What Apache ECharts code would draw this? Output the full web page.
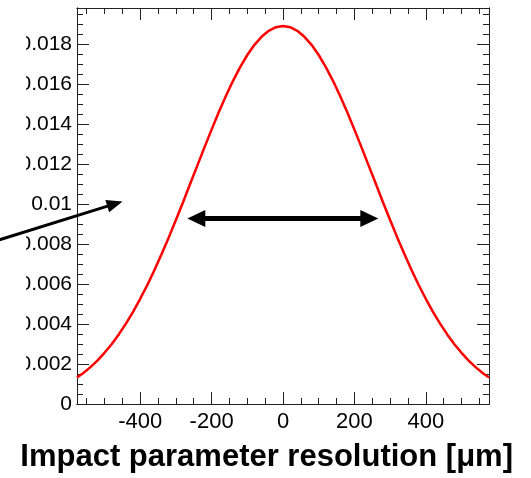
<!DOCTYPE html>
<html>
<head>
<meta charset="utf-8">
<script src="https://cdn.jsdelivr.net/npm/echarts@6/dist/echarts.min.js"></script>
<style>
html,body{margin:0;padding:0;background:#fff;}
#chart{width:531px;height:478px;}
</style>
</head>
<body>
<div id="chart"></div>
<script>
// ---- data ----
const xValues = [-577,-560,-540,-520,-500,-480,-460,-440,-420,-400,-380,-360,-340,-320,-300,-280,-260,-240,-220,-200,-180,-160,-140,-120,-100,-80,-60,-40,-20,0,20,40,60,80,100,120,140,160,180,200,220,240,260,280,300,320,340,360,380,400,420,440,460,480,500,520,540,560,577];
const yValues = [0.00132,0.00154,0.00183,0.00217,0.00256,0.00299,0.00348,0.00402,0.00461,0.00526,0.00595,0.00670,0.00750,0.00833,0.00920,0.01009,0.01101,0.01192,0.01283,0.01372,0.01459,0.01540,0.01616,0.01684,0.01745,0.01796,0.01836,0.01866,0.01884,0.01890,0.01884,0.01866,0.01836,0.01796,0.01745,0.01684,0.01616,0.01540,0.01459,0.01372,0.01283,0.01192,0.01101,0.01009,0.00920,0.00833,0.00750,0.00670,0.00595,0.00526,0.00461,0.00402,0.00348,0.00299,0.00256,0.00217,0.00183,0.00154,0.00132];
const xMajorTicks = [-400,-200,0,200,400];
const xMinorTicks = [-550,-500,-450,-350,-300,-250,-150,-100,-50,50,100,150,250,300,350,450,500,550];
const yMajorTicks = [0,0.002,0.004,0.006,0.008,0.01,0.012,0.014,0.016,0.018];
const yMinorTicks = [0.0005,0.001,0.0015,0.0025,0.003,0.0035,0.0045,0.005,0.0055,0.0065,0.007,0.0075,0.0085,0.009,0.0095,0.0105,0.011,0.0115,0.0125,0.013,0.0135,0.0145,0.015,0.0155,0.0165,0.017,0.0175,0.0185,0.019,0.0195];
const xRange = [-577, 577];
const yRange = [0, 0.0198];
const xTitle = 'Impact parameter resolution [μm]';
// arrows: [tail, tip] in data units
const fwhmArrow = [[-268, 0.00927], [267, 0.00927]]; // double-headed
const pointerArrow = [[-820, 0.00807], [-449.5, 0.01013]];

const chart = echarts.init(document.getElementById('chart'), null, {renderer: 'canvas'});
const FONT = 'Liberation Sans, Arial, Helvetica, sans-serif';
const AX = '#222';

function xAx(pos, ticks, len, labels) {
  return {
    type: 'value', position: pos, min: xRange[0], max: xRange[1],
    axisLine: {show: true, onZero: false, lineStyle: {color: AX, width: 1}},
    axisTick: {show: true, inside: true, length: len, customValues: ticks, lineStyle: {color: AX, width: 1}},
    axisLabel: labels ? {show: true, customValues: ticks, margin: 7, fontSize: 22, color: '#000', fontFamily: FONT} : {show: false},
    splitLine: {show: false}
  };
}
function yAx(pos, ticks, len, labels) {
  return {
    type: 'value', position: pos, min: yRange[0], max: yRange[1],
    axisLine: {show: true, onZero: false, lineStyle: {color: AX, width: 1}},
    axisTick: {show: true, inside: true, length: len, customValues: ticks, lineStyle: {color: AX, width: 1}},
    axisLabel: labels ? {show: true, customValues: ticks, margin: 5, fontSize: 21, color: '#000', fontFamily: FONT} : {show: false},
    splitLine: {show: false}
  };
}

chart.setOption({
  animation: false,
  backgroundColor: '#fff',
  grid: {left: 77, right: 42, top: 8, bottom: 74, containLabel: false},
  title: {
    text: xTitle, right: 13, top: 437,
    textStyle: {fontSize: 31, fontWeight: 'bold', color: '#000', fontFamily: FONT}
  },
  xAxis: [
    xAx('bottom', xMajorTicks, 12, true),
    xAx('bottom', xMinorTicks, 6, false),
    xAx('top', xMajorTicks, 12, false),
    xAx('top', xMinorTicks, 6, false)
  ],
  yAxis: [
    yAx('left', yMajorTicks, 12, true),
    yAx('left', yMinorTicks, 6, false),
    yAx('right', yMajorTicks, 12, false),
    yAx('right', yMinorTicks, 6, false)
  ],
  series: [{
    type: 'line',
    xAxisIndex: 0, yAxisIndex: 0,
    data: xValues.map((x, i) => [x, yValues[i]]),
    showSymbol: false, symbol: 'none',
    lineStyle: {color: '#ff0000', width: 2.5},
    z: 3
  }]
});

function arrowGraphics(tail, tip, shaftW, headL, headW, doubleHead) {
  const p0 = chart.convertToPixel({xAxisIndex: 0, yAxisIndex: 0}, tail);
  const p1 = chart.convertToPixel({xAxisIndex: 0, yAxisIndex: 0}, tip);
  const dx = p1[0] - p0[0], dy = p1[1] - p0[1];
  const d = Math.sqrt(dx * dx + dy * dy);
  const ux = dx / d, uy = dy / d, nx = -uy, ny = ux;
  const head = (T, sx, sy) => {
    const bx = T[0] - headL * sx, by = T[1] - headL * sy;
    return {type: 'polygon', z: 20, shape: {points: [[T[0], T[1]], [bx + nx * headW / 2, by + ny * headW / 2], [bx - nx * headW / 2, by - ny * headW / 2]]}, style: {fill: '#000'}};
  };
  const a = doubleHead ? [p0[0] + ux * (headL - 2), p0[1] + uy * (headL - 2)] : p0;
  const b = [p1[0] - ux * (headL - 2), p1[1] - uy * (headL - 2)];
  const els = [{type: 'line', z: 20, shape: {x1: a[0], y1: a[1], x2: b[0], y2: b[1]}, style: {stroke: '#000', lineWidth: shaftW}}];
  els.push(head(p1, ux, uy));
  if (doubleHead) els.push(head(p0, -ux, -uy));
  return els;
}

const g = [
  {type: 'rect', z: 10, shape: {x: 0, y: 15, width: 26, height: 390}, style: {fill: '#fff'}}
].concat(
  arrowGraphics(fwhmArrow[0], fwhmArrow[1], 5, 18, 17, true),
  arrowGraphics(pointerArrow[0], pointerArrow[1], 3, 16, 13, false)
);
chart.setOption({graphic: g});
</script>
</body>
</html>
